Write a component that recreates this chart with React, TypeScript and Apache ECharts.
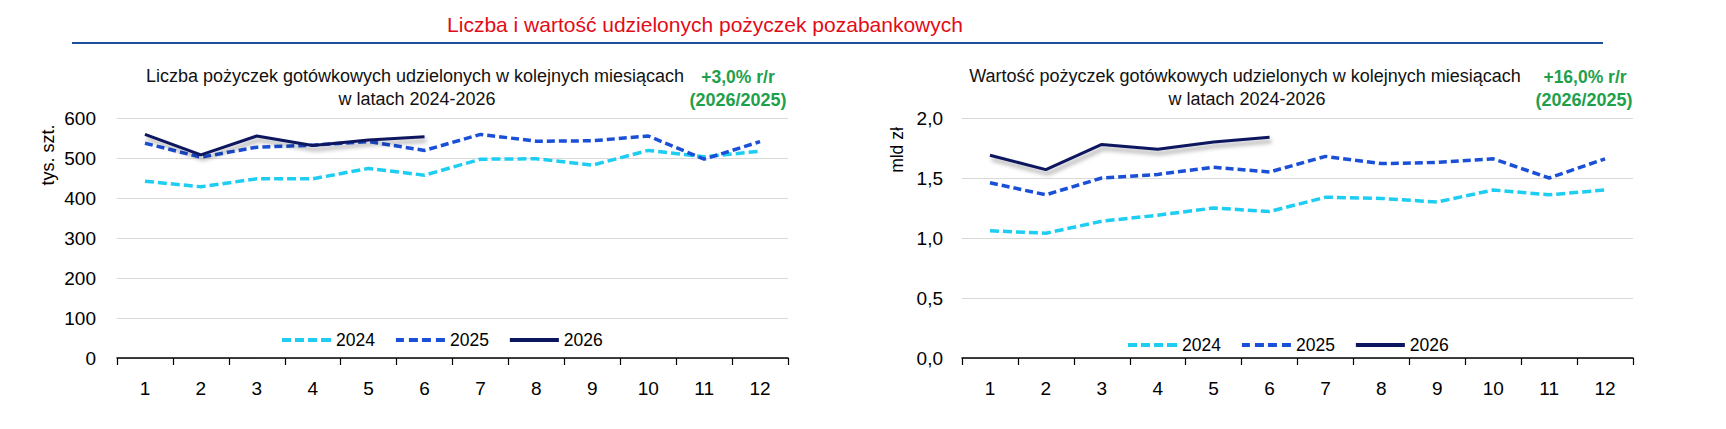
import React, { useEffect, useRef } from "react";
import * as echarts from "echarts";

const months = ["1", "2", "3", "4", "5", "6", "7", "8", "9", "10", "11", "12"];
const seriesNames = ["2024", "2025", "2026"];
const count2024 = [442, 428, 448, 448, 474, 457, 497, 498, 482, 519, 503, 517];
const count2025 = [537, 502, 527, 532, 541, 519, 559, 542, 543, 555, 497, 541];
const count2026 = [559, 508, 555, 531, 545, 553];
const value2024 = [1.06, 1.04, 1.14, 1.19, 1.25, 1.22, 1.34, 1.33, 1.3, 1.4, 1.36, 1.4];
const value2025 = [1.46, 1.36, 1.5, 1.53, 1.59, 1.55, 1.68, 1.62, 1.63, 1.66, 1.5, 1.66];
const value2026 = [1.69, 1.57, 1.78, 1.74, 1.8, 1.84];
const countTicks = { min: 0, max: 600, interval: 100 };
const valueTicks = { min: 0, max: 2, interval: 0.5 };

const FONT = "'Liberation Sans', Arial, sans-serif";
const C2024 = "#1ECDF2";
const C2025 = "#1A4FD8";
const C2026 = "#0B165E";

const ICON_2024 = "path://M0,0h9v4h-9zM13,0h9v4h-9zM26,0h9v4h-9zM39,0h10v4h-10z";
const ICON_2025 = "path://M0,0h8v4h-8zM13,0h9v4h-9zM26,0h9v4h-9zM40,0h9v4h-9z";
const ICON_2026 = "path://M0,0h49v4h-49z";

export default function App() {
  const ref = useRef<HTMLDivElement>(null);
  useEffect(() => {
    document.body.style.margin = "0";
    const chart = echarts.init(ref.current!, null, { renderer: "svg" });

    const mkSeries = (data: number[][], idx: number) => [
      {
        name: seriesNames[0],
        type: "line",
        xAxisIndex: idx,
        yAxisIndex: idx,
        data: data[0],
        symbol: "none",
        lineStyle: { color: C2024, width: 3.5, type: [9, 4] },
        itemStyle: { color: C2024 },
        z: 2,
      },
      {
        name: seriesNames[1],
        type: "line",
        xAxisIndex: idx,
        yAxisIndex: idx,
        data: data[1],
        symbol: "none",
        lineStyle: { color: C2025, width: 3.5, type: [8, 4] },
        itemStyle: { color: C2025 },
        z: 3,
      },
      {
        name: seriesNames[2],
        type: "line",
        xAxisIndex: idx,
        yAxisIndex: idx,
        data: data[2],
        symbol: "none",
        lineStyle: {
          color: C2026,
          width: 3,
          shadowColor: "rgba(0,0,0,0.35)",
          shadowBlur: 4,
          shadowOffsetX: 2,
          shadowOffsetY: 4,
        },
        itemStyle: { color: C2026 },
        z: 4,
      },
    ];

    const xAxisCommon = {
      type: "category",
      data: months,
      boundaryGap: true,
      axisLine: { lineStyle: { color: "#000", width: 1.5 } },
      axisTick: { show: true, length: 7, lineStyle: { color: "#000", width: 1.2 } },
      axisLabel: { color: "#000", fontSize: 19, fontFamily: FONT, margin: 21 },
      splitLine: { show: false },
    };

    const yAxisCommon = {
      type: "value",
      axisLine: { show: false },
      axisTick: { show: false },
      splitLine: { lineStyle: { color: "#D9D9D9", width: 1.2 } },
    };

    const legendCommon = {
      data: [
        { name: seriesNames[0], icon: ICON_2024 },
        { name: seriesNames[1], icon: ICON_2025 },
        { name: seriesNames[2], icon: ICON_2026 },
      ],
      itemWidth: 49,
      itemHeight: 14,
      itemGap: 21,
      itemStyle: { borderWidth: 0 },
      lineStyle: { width: 0 },
      textStyle: { color: "#000", fontSize: 17.5, fontFamily: FONT },
      selectedMode: false,
    };

    const txt = (text: string, x: number, y: number, opts: any = {}) => ({
      type: "text",
      x,
      y,
      rotation: opts.rotation || 0,
      style: {
        text,
        fill: opts.fill || "#111",
        fontSize: opts.fontSize || 18,
        fontWeight: opts.fontWeight || "normal",
        fontFamily: FONT,
        align: "center",
        verticalAlign: "middle",
      },
    });

    const option = {
      animation: false,
      backgroundColor: "#FFFFFF",
      grid: [
        { left: 117, top: 118, width: 671, height: 240 },
        { left: 962, top: 118, width: 671, height: 240 },
      ],
      xAxis: [
        { ...xAxisCommon, gridIndex: 0 },
        { ...xAxisCommon, gridIndex: 1 },
      ],
      yAxis: [
        {
          ...yAxisCommon,
          gridIndex: 0,
          ...countTicks,
          axisLabel: { color: "#000", fontSize: 19, fontFamily: FONT, margin: 21 },
        },
        {
          ...yAxisCommon,
          gridIndex: 1,
          ...valueTicks,
          axisLabel: {
            color: "#000",
            fontSize: 19,
            fontFamily: FONT,
            margin: 19,
            formatter: (v: number) => v.toFixed(1).replace(".", ","),
          },
        },
      ],
      legend: [
        { ...legendCommon, left: 277, top: 326 },
        { ...legendCommon, left: 1123, top: 331 },
      ],
      series: [
        ...mkSeries([count2024, count2025, count2026], 0),
        ...mkSeries([value2024, value2025, value2026], 1),
      ],
      graphic: [
        txt("Liczba i wartość udzielonych pożyczek pozabankowych", 705, 24, {
          fill: "#E30B17",
          fontSize: 21,
        }),
        {
          type: "line",
          shape: { x1: 72, y1: 43, x2: 1603, y2: 43 },
          style: { stroke: "#1B4F9C", lineWidth: 1.8 },
        },
        txt("Liczba pożyczek gotówkowych udzielonych w kolejnych miesiącach", 415, 76),
        txt("w latach 2024-2026", 417, 99),
        txt("+3,0% r/r", 738, 77, { fill: "#1FA04B", fontWeight: "bold", fontSize: 17.5 }),
        txt("(2026/2025)", 738, 100, { fill: "#1FA04B", fontWeight: "bold", fontSize: 18 }),
        txt("tys. szt.", 48, 155, { rotation: Math.PI / 2, fontSize: 18, fill: "#000" }),
        txt("Wartość pożyczek gotówkowych udzielonych w kolejnych miesiącach", 1245, 76),
        txt("w latach 2024-2026", 1247, 99),
        txt("+16,0% r/r", 1585, 77, { fill: "#1FA04B", fontWeight: "bold", fontSize: 17.5 }),
        txt("(2026/2025)", 1584, 100, { fill: "#1FA04B", fontWeight: "bold", fontSize: 18 }),
        txt("mld zł", 897, 150, { rotation: Math.PI / 2, fontSize: 17.5, fill: "#000" }),
      ],
    };

    chart.setOption(option as any);
    return () => chart.dispose();
  }, []);

  return <div ref={ref} style={{ width: 1726, height: 429 }} />;
}
